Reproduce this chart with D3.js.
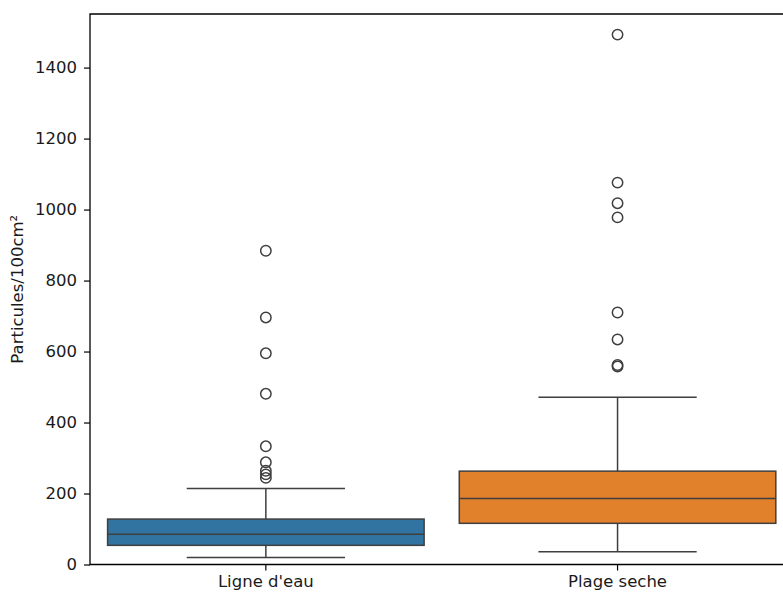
<!DOCTYPE html>
<html>
<head>
<meta charset="utf-8">
<script src="https://cdn.jsdelivr.net/npm/d3@7"></script>
<style>
  body { margin: 0; background: #fff; }
  svg { display: block; font-family: "DejaVu Sans", sans-serif; }
</style>
</head>
<body>
<svg id="chart"></svg>
<script>
const WIDTH = 783;
const HEIGHT = 595;

const categories = ["Ligne d'eau", "Plage seche"];
const colors = ["#3274a1", "#e1812c"];
const whiskerLow = [20, 36];
const q1 = [54, 116];
const median = [85, 186];
const q3 = [128, 263];
const whiskerHigh = [214, 471];
const outliers = [
  [884, 696, 595, 481, 333, 288, 264, 254, 244],
  [1493, 1076, 1018, 978, 710, 634, 562, 558]
];
const yTicks = [0, 200, 400, 600, 800, 1000, 1200, 1400];

const margin = { left: 90, top: 14, bottom: 564.5 };
const LINE = "#3f3f3f";

const svg = d3.select("#chart").attr("width", WIDTH).attr("height", HEIGHT);

// right end of the axes lies past the picture edge (cropped figure)
const xScale = d3.scaleBand().domain(categories).range([margin.left, 793.4]);
const yScale = d3.scaleLinear().domain([0, 1551]).range([margin.bottom, margin.top]);

const bw = xScale.bandwidth();
const boxW = bw * 0.9;
const capW = boxW / 2;

const groups = svg.selectAll("g.box")
  .data(categories)
  .enter()
  .append("g")
  .attr("class", "box")
  .attr("transform", (d) => `translate(${xScale(d) + bw / 2},0)`);

// whiskers
groups.append("line")
  .attr("x1", 0).attr("x2", 0)
  .attr("y1", (d, i) => yScale(whiskerLow[i]))
  .attr("y2", (d, i) => yScale(q1[i]))
  .attr("stroke", LINE).attr("stroke-width", 1.5);
groups.append("line")
  .attr("x1", 0).attr("x2", 0)
  .attr("y1", (d, i) => yScale(q3[i]))
  .attr("y2", (d, i) => yScale(whiskerHigh[i]))
  .attr("stroke", LINE).attr("stroke-width", 1.5);

// caps
groups.append("line")
  .attr("x1", -capW / 2).attr("x2", capW / 2)
  .attr("y1", (d, i) => yScale(whiskerLow[i]))
  .attr("y2", (d, i) => yScale(whiskerLow[i]))
  .attr("stroke", LINE).attr("stroke-width", 1.5);
groups.append("line")
  .attr("x1", -capW / 2).attr("x2", capW / 2)
  .attr("y1", (d, i) => yScale(whiskerHigh[i]))
  .attr("y2", (d, i) => yScale(whiskerHigh[i]))
  .attr("stroke", LINE).attr("stroke-width", 1.5);

// boxes
groups.append("rect")
  .attr("x", -boxW / 2)
  .attr("width", boxW)
  .attr("y", (d, i) => yScale(q3[i]))
  .attr("height", (d, i) => yScale(q1[i]) - yScale(q3[i]))
  .attr("fill", (d, i) => colors[i])
  .attr("stroke", LINE).attr("stroke-width", 1.5);

// medians
groups.append("line")
  .attr("x1", -boxW / 2).attr("x2", boxW / 2)
  .attr("y1", (d, i) => yScale(median[i]))
  .attr("y2", (d, i) => yScale(median[i]))
  .attr("stroke", LINE).attr("stroke-width", 1.5);

// outliers
groups.each(function (d, i) {
  d3.select(this).selectAll("circle")
    .data(outliers[i])
    .enter()
    .append("circle")
    .attr("cx", 0)
    .attr("cy", (v) => yScale(v))
    .attr("r", 5.2)
    .attr("fill", "none")
    .attr("stroke", LINE)
    .attr("stroke-width", 1.5);
});

// axes
const yAxis = d3.axisLeft(yScale)
  .tickValues(yTicks)
  .tickFormat(d3.format("d"))
  .tickSize(6)
  .tickPadding(7);
const gy = svg.append("g")
  .attr("transform", `translate(${margin.left},0)`)
  .call(yAxis);

const xAxis = d3.axisBottom(xScale).tickSize(6).tickPadding(5);
const gx = svg.append("g")
  .attr("transform", `translate(0,${margin.bottom})`)
  .call(xAxis);

[gx, gy].forEach((g) => {
  g.select(".domain").remove();
  g.selectAll(".tick line").attr("stroke", "#000").attr("stroke-width", 1.2);
  g.selectAll(".tick text")
    .attr("fill", "#1a1a1a")
    .style("font-size", "16.5px")
    .style("font-family", "DejaVu Sans, sans-serif");
});

// spines (left, top, bottom; right one is outside the picture)
svg.append("path")
  .attr("d", `M${WIDTH + 5},${margin.top}H${margin.left}V${margin.bottom}H${WIDTH + 5}`)
  .attr("fill", "none")
  .attr("stroke", "#000")
  .attr("stroke-width", 1.3);

svg.append("text")
  .attr("transform", `translate(23,${(margin.top + margin.bottom) / 2}) rotate(-90)`)
  .attr("text-anchor", "middle")
  .attr("fill", "#1a1a1a")
  .style("font-size", "16.5px")
  .text("Particules/100cm²");
</script>
</body>
</html>
